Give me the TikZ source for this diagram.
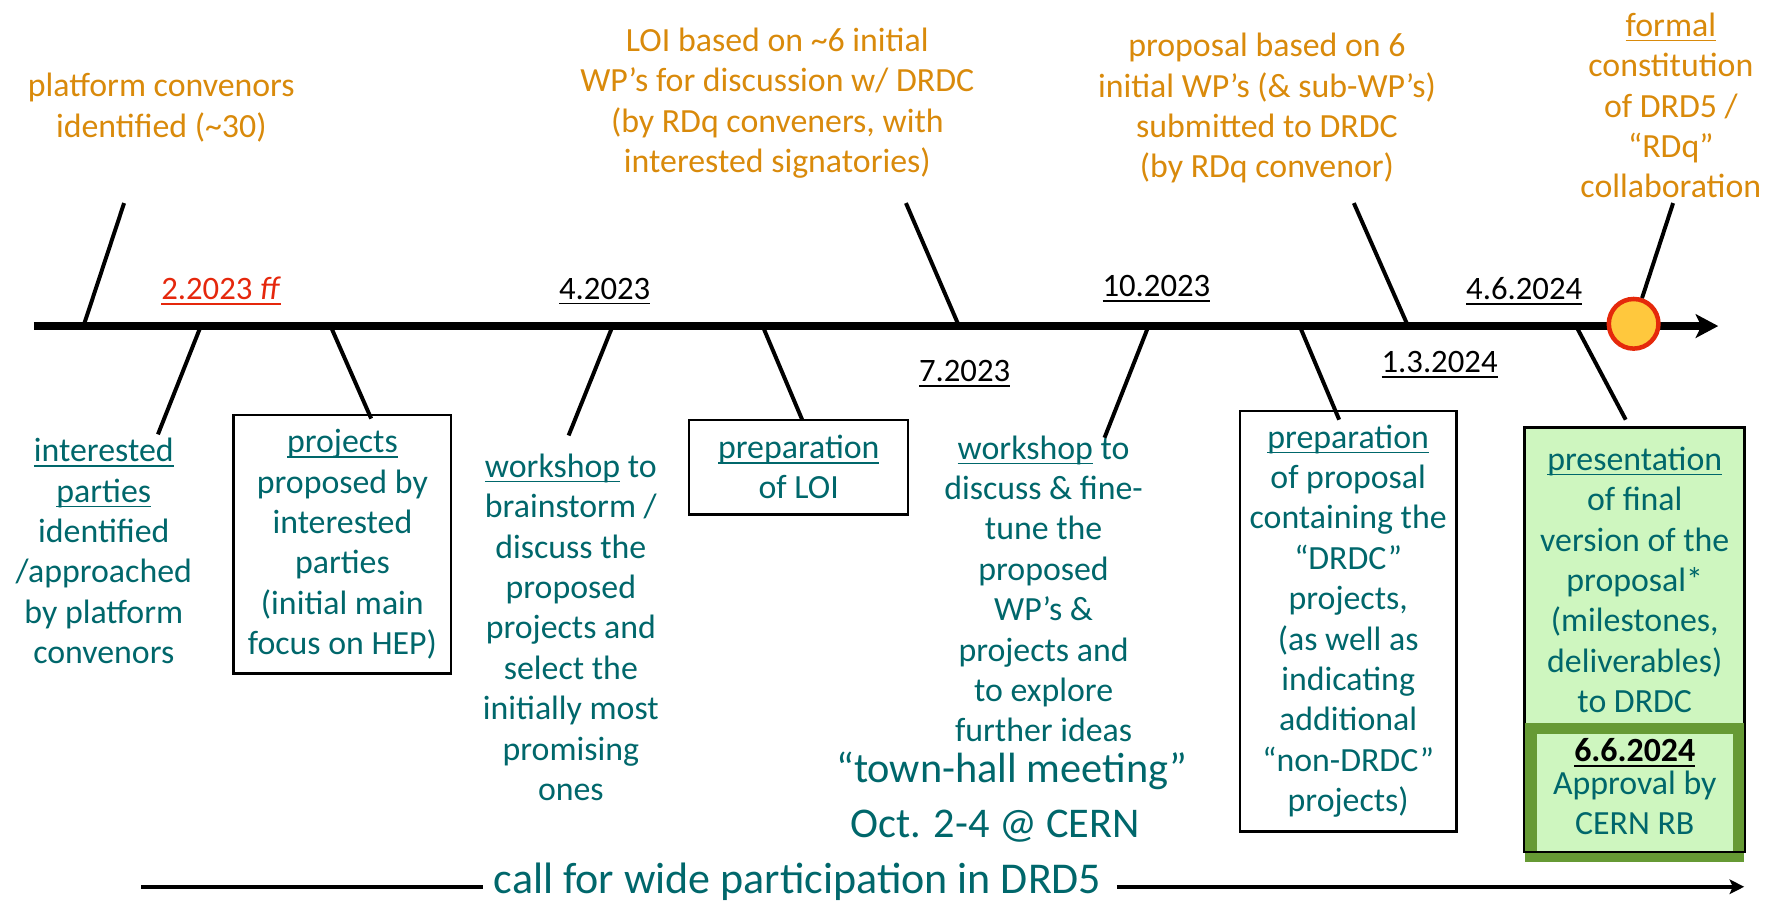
\documentclass[tikz,border=0pt]{standalone}
\usepackage{fontspec}
\setmainfont{Carlito}
\usetikzlibrary{arrows.meta}

\definecolor{tealtx}{HTML}{00676B}
\definecolor{ambertx}{HTML}{D98A0B}
\definecolor{reddate}{HTML}{E5270C}
\definecolor{palegreen}{HTML}{CEF6BF}
\definecolor{olivegreen}{HTML}{669A34}
\definecolor{dotfill}{HTML}{FFC83D}
\definecolor{dotedge}{HTML}{E5290B}

% underline drawn just below the baseline, in the current colour
\newcommand\ulin[1]{\setbox0\hbox{#1}\rlap{\rule[-4.5pt]{\wd0}{1.5pt}}\box0\relax}

\tikzset{
  body/.style={font=\fontsize{30}{35.8}\selectfont, text=tealtx, align=center, inner sep=0pt},
  upper/.style={font=\fontsize{30}{35.8}\selectfont, text=ambertx, align=center, inner sep=0pt},
  datelbl/.style={font=\fontsize{29}{34}\selectfont, text=black, inner sep=0pt},
  stageframe/.style={draw=black, line width=2pt, inner sep=0pt},
  spoke/.style={line width=3.5pt},
  spine/.style={line width=7pt, -{Stealth[length=20pt,width=21pt,inset=5pt]}},
  callline/.style={line width=4pt},
}

\begin{document}
\begin{tikzpicture}[x=1pt, y=-1pt]
\useasboundingbox (0,0) rectangle (1568,800);

% ---- main time line ----
\coordinate (s0) at (30,289);
\coordinate (s1) at (1523,289);
\draw[spine] (s0) -- (s1);

% ---- milestones above the line ----
\node[upper] (platconv) at (143,95.5) {platform convenors\\identified (\textasciitilde30)};
\node[upper] (loisent) at (689,91.5) {LOI based on \textasciitilde6 initial\\WP’s for discussion w/ DRDC\\(by RDq conveners, with\\interested signatories)};
\node[upper] (propsent) at (1123,96) {proposal based on 6\\initial WP’s (\& sub-WP’s)\\submitted to DRDC\\(by RDq convenor)};
\node[upper] (formal) at (1481,93.5) {\ulin{formal}\\constitution\\of DRD5 /\\“RDq”\\collaboration};

% ---- dates ----
\node[datelbl, text=reddate] (d1) at (196,258) {\ulin{2.2023 \textit{ff}}};
\node[datelbl] (d2) at (536,258) {\ulin{4.2023}};
\node[datelbl] (d3) at (855,331) {\ulin{7.2023}};
\node[datelbl] (d4) at (1025,256) {\ulin{10.2023}};
\node[datelbl] (d5) at (1276,323) {\ulin{1.3.2024}};
\node[datelbl] (d6) at (1351,258) {\ulin{4.6.2024}};

% ---- steps below the line ----
\node[body] (parties) at (92,488.5) {\ulin{interested}\\\ulin{parties}\\identified\\/approached\\by platform\\convenors};
\node[body, stageframe, minimum width=193pt, minimum height=229pt] (projects) at (303.5,482.5)
  {\ulin{projects}\\proposed by\\interested\\parties\\(initial main\\focus on HEP)};
\node[body] (workA) at (506,556) {\ulin{workshop} to\\brainstorm /\\discuss the\\proposed\\projects and\\select the\\initially most\\promising\\ones};
\node[body, stageframe, minimum width=194pt, minimum height=84pt] (loiprep) at (708,414)
  {\ulin{preparation}\\of LOI};
\node[body] (workB) at (925,522) {\ulin{workshop} to\\discuss \& fine-\\tune the\\proposed\\WP’s \&\\projects and\\to explore\\further ideas};
\node[body, font=\fontsize{37.5}{45}\selectfont] (townhall) at (897,683) {“town-hall meeting”};
\node[body, font=\fontsize{37.5}{45}\selectfont] (octcern) at (882,732) {Oct. 2-4 @ CERN};
\node[body, stageframe, minimum width=192pt, minimum height=373pt] (propprep) at (1195,550.5)
  {\ulin{preparation}\\of proposal\\containing the\\“DRDC”\\projects,\\(as well as\\indicating\\additional\\“non-DRDC”\\projects)};

% final presentation box with the approval panel
\node[stageframe, fill=palegreen, minimum width=194pt, minimum height=375pt] (finalbox) at (1449,566.5) {};
\node[draw=olivegreen, line width=10pt, fill=palegreen, minimum width=184pt, minimum height=113pt, inner sep=0pt] (approval) at (1449,702.5) {};
\draw[line width=2pt] (finalbox.north west) -- (finalbox.south west) -- (finalbox.south east) -- (finalbox.north east);
\node[body] (finaltxt) at (1449,514) {\ulin{presentation}\\of final\\version of the\\proposal*\\(milestones,\\deliverables)\\to DRDC};
\node[datelbl, font=\fontsize{30}{34}\selectfont\bfseries] (rbdate) at (1449,667) {\ulin{6.6.2024}};
\node[body] (rbtxt) at (1449,711.5) {Approval by\\CERN RB};

% ---- goal marker ----
\node[circle, draw=dotedge, fill=dotfill, line width=4pt, minimum size=44pt, inner sep=0pt] (goal) at (1448,287) {};

% ---- spokes above the line ----
\coordinate (ta1) at (110,180); \coordinate (tb1) at (74,289);
\coordinate (ta2) at (803,180); \coordinate (tb2) at (850,289);
\coordinate (ta3) at (1200,180); \coordinate (tb3) at (1248,289);
\coordinate (ta4) at (1483,180);
\draw[spoke] (ta1) -- (tb1);
\draw[spoke] (ta2) -- (tb2);
\draw[spoke] (ta3) -- (tb3);
\draw[spoke] (ta4) -- (goal);

% ---- spokes below the line ----
\coordinate (ba1) at (178,289); \coordinate (bb1) at (140,385);
\coordinate (ba2) at (293,289); \coordinate (bb2) at (329,371);
\coordinate (ba3) at (543,289); \coordinate (bb3) at (504,386);
\coordinate (ba4) at (676,289); \coordinate (bb4) at (711,372);
\coordinate (ba5) at (1018,289); \coordinate (bb5) at (979,388);
\coordinate (ba6) at (1152,289); \coordinate (bb6) at (1187,372);
\coordinate (ba7) at (1397,289); \coordinate (bb7) at (1441,372);
\foreach \k in {1,...,7} { \draw[spoke] (ba\k) -- (bb\k); }

% ---- call for participation ----
\node[body, font=\fontsize{39}{45}\selectfont] (call) at (707,782) {call for wide participation in DRD5};
\coordinate (callL) at (125,786); \coordinate (callLend) at (428,786);
\coordinate (callR) at (990,786); \coordinate (callRend) at (1546,786);
\draw[callline] (callL) -- (callLend);
\draw[callline, -{Stealth[length=13pt,width=13pt,inset=3pt]}] (callR) -- (callRend);
\end{tikzpicture}
\end{document}
